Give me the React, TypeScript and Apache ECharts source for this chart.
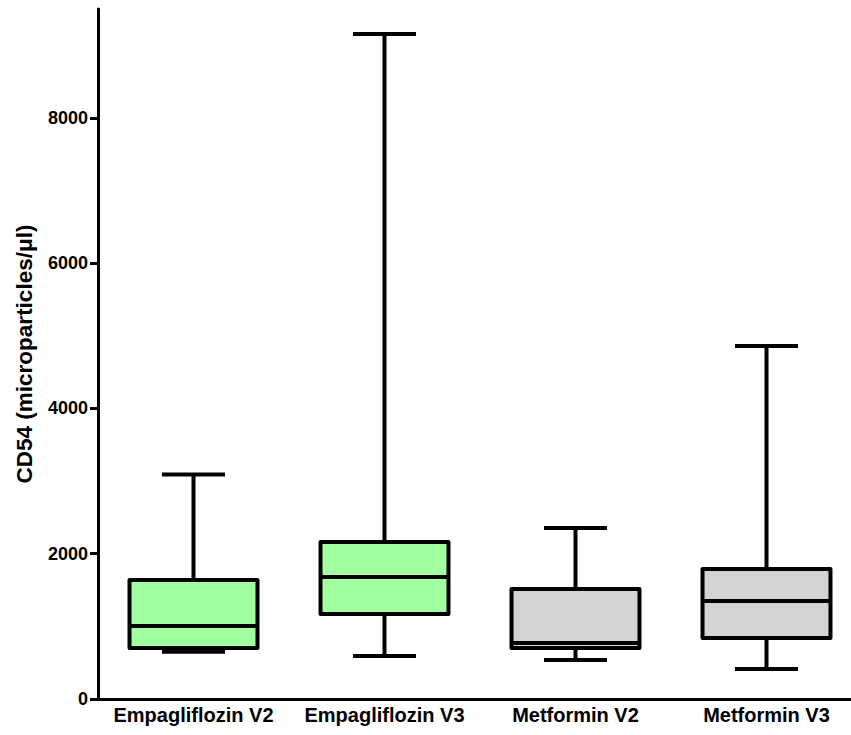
import React, { useEffect, useRef } from "react";
import * as echarts from "echarts";

const categories = ["Empagliflozin V2", "Empagliflozin V3", "Metformin V2", "Metformin V3"];
// [min, q1, median, q3, max]
const lows = [650, 592, 537, 413];
const q1s = [702, 1170, 702, 840];
const medians = [1005, 1680, 771, 1349];
const q3s = [1639, 2162, 1515, 1790];
const highs = [3090, 9157, 2355, 4861];
const fills = ["#A1FFA1", "#A1FFA1", "#D4D4D4", "#D4D4D4"];
const yTicks = [0, 2000, 4000, 6000, 8000];

export default function App() {
  const ref = useRef<HTMLDivElement>(null);
  useEffect(() => {
    if (!ref.current) return;
    const chart = echarts.init(ref.current, null, { renderer: "svg" });
    const data = categories.map((c, i) => [i, lows[i], q1s[i], medians[i], q3s[i], highs[i]]);
    const font = "'Liberation Sans', Arial, sans-serif";
    chart.setOption({
      animation: false,
      grid: { left: 98, right: 0, top: 9, bottom: 36 },
      xAxis: {
        type: "category",
        data: categories,
        axisLine: { lineStyle: { color: "#000", width: 3 } },
        axisTick: { alignWithLabel: true, length: 7, lineStyle: { color: "#000", width: 3 } },
        axisLabel: { interval: 0, hideOverlap: false, color: "#000", fontWeight: "bold", fontSize: 20, fontFamily: font, margin: 6 },
      },
      yAxis: {
        type: "value",
        min: 0,
        max: 9500,
        interval: 2000,
        name: "CD54 (microparticles/\u03bcl)",
        nameLocation: "middle",
        nameGap: 62,
        nameTextStyle: { color: "#000", fontWeight: "bold", fontSize: 22.5, fontFamily: font },
        splitLine: { show: false },
        axisLine: { show: true, lineStyle: { color: "#000", width: 3 } },
        axisTick: { show: true, length: 8, customValues: yTicks, lineStyle: { color: "#000", width: 3 } },
        axisLabel: {
          color: "#000",
          fontWeight: "bold",
          fontSize: 18,
          fontFamily: font,
          margin: 10,
          customValues: yTicks,
          formatter: (v: number) => String(v),
        },
      },
      series: [
        {
          type: "custom",
          data,
          encode: { x: 0, y: [1, 2, 3, 4, 5] },
          renderItem: (params: any, api: any) => {
            const idx = api.value(0);
            const band = api.size([1, 0])[0];
            const boxW = band * 0.67;
            const capW = band * 0.33;
            const pLow = api.coord([idx, api.value(1)]);
            const pQ1 = api.coord([idx, api.value(2)]);
            const pMed = api.coord([idx, api.value(3)]);
            const pQ3 = api.coord([idx, api.value(4)]);
            const pHigh = api.coord([idx, api.value(5)]);
            const cx = pMed[0];
            const ls = { stroke: "#000", lineWidth: 4 };
            return {
              type: "group",
              children: [
                { type: "line", shape: { x1: cx, y1: pHigh[1], x2: cx, y2: pQ3[1] }, style: ls },
                { type: "line", shape: { x1: cx, y1: pQ1[1], x2: cx, y2: pLow[1] }, style: ls },
                { type: "line", shape: { x1: cx - capW / 2, y1: pHigh[1], x2: cx + capW / 2, y2: pHigh[1] }, style: ls },
                { type: "line", shape: { x1: cx - capW / 2, y1: pLow[1], x2: cx + capW / 2, y2: pLow[1] }, style: ls },
                {
                  type: "rect",
                  shape: { x: cx - boxW / 2, y: pQ3[1], width: boxW, height: pQ1[1] - pQ3[1] },
                  style: { fill: fills[idx], stroke: "#000", lineWidth: 4, lineJoin: "round" },
                },
                { type: "line", shape: { x1: cx - boxW / 2, y1: pMed[1], x2: cx + boxW / 2, y2: pMed[1] }, style: ls },
              ],
            };
          },
        },
      ],
    });
    return () => chart.dispose();
  }, []);
  return (
    <div style={{ position: "absolute", left: 0, top: 0, width: 851, height: 735, overflow: "hidden" }}>
      <div ref={ref} style={{ position: "absolute", left: 0, top: 0, width: 862, height: 735 }} />
    </div>
  );
}
